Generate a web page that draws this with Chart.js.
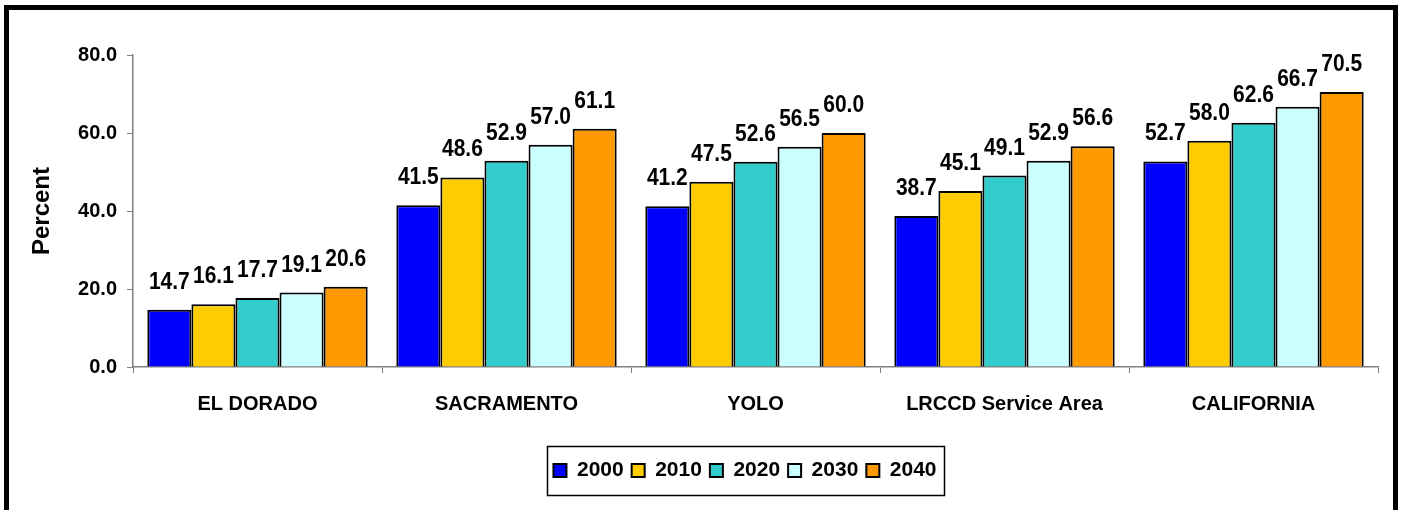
<!DOCTYPE html>
<html>
<head>
<meta charset="utf-8">
<script src="https://cdn.jsdelivr.net/npm/chart.js@4.4.1/dist/chart.umd.min.js"></script>
<style>
    html, body { margin: 0; padding: 0; background: #fff; }
    .chart-box { width: 1403px; height: 510px; position: relative; }
</style>
</head>
<body>
<div class="chart-box"><canvas id="popChart"></canvas></div>
<script>
// Categories and series (percent)
const areas = ['EL DORADO', 'SACRAMENTO', 'YOLO', 'LRCCD Service Area', 'CALIFORNIA'];
const years = ['2000', '2010', '2020', '2030', '2040'];
const values2000 = [14.7, 41.5, 41.2, 38.7, 52.7];
const values2010 = [16.1, 48.6, 47.5, 45.1, 58.0];
const values2020 = [17.7, 52.9, 52.6, 49.1, 62.6];
const values2030 = [19.1, 57.0, 56.5, 52.9, 66.7];
const values2040 = [20.6, 61.1, 60.0, 56.6, 70.5];
const yTicks = [0, 20, 40, 60, 80];

const seriesValues = [values2000, values2010, values2020, values2030, values2040];
const seriesColors = ['#0000FF', '#FFCC00', '#33CCCC', '#CCFFFF', '#FF9900'];

const FONT = '"Liberation Sans", Arial, sans-serif';
const LEGEND_PAD = 8;

// value labels above each bar (a bit taller than wide, like the original)
const barLabels = {
    id: 'barLabels',
    afterDatasetsDraw(chart) {
        const ctx = chart.ctx;
        ctx.save();
        ctx.font = 'bold 21px ' + FONT;
        ctx.fillStyle = '#000';
        ctx.textAlign = 'center';
        ctx.textBaseline = 'alphabetic';
        chart.data.datasets.forEach((ds, i) => {
            chart.getDatasetMeta(i).data.forEach((bar, j) => {
                ctx.save();
                ctx.translate(bar.x, bar.y - 21);
                ctx.scale(1, 1.15);
                ctx.fillText(ds.data[j].toFixed(1), 0, 0);
                ctx.restore();
            });
        });
        ctx.restore();
    }
};

// move the legend a little right of centre, as in the original
const legendShift = {
    id: 'legendShift',
    beforeDraw(chart) {
        const lg = chart.legend;
        if (!lg || lg._shifted) return;
        // adjustHitBoxes adds the offset to top again, so undo it first
        lg.legendHitBoxes.forEach(b => { b.top -= lg.top + LEGEND_PAD; });
        lg.left += 46;
        lg.right += 46;
        lg.adjustHitBoxes();
        lg._shifted = true;
    },
    afterLayout(chart) {
        if (chart.legend) chart.legend._shifted = false;
    }
};

// outer frame + box round the legend
const frames = {
    id: 'frames',
    afterDraw(chart) {
        const ctx = chart.ctx;
        ctx.save();
        ctx.strokeStyle = '#000';
        ctx.lineWidth = 5;
        ctx.strokeRect(6.5, 7.5, 1389, 540);

        const boxes = chart.legend.legendHitBoxes;
        if (boxes && boxes.length) {
            const left = Math.min(...boxes.map(b => b.left)) - 6;
            const right = Math.max(...boxes.map(b => b.left + b.width)) + 8;
            const top = Math.min(...boxes.map(b => b.top)) - 14;
            const bottom = Math.max(...boxes.map(b => b.top + b.height)) + 14;
            ctx.lineWidth = 1.5;
            ctx.strokeRect(Math.round(left) + 0.5, Math.round(top) + 0.5, Math.round(right - left), Math.round(bottom - top));
        }
        ctx.restore();
    }
};

new Chart(document.getElementById('popChart'), {
    type: 'bar',
    data: {
        labels: areas,
        datasets: years.map((y, i) => ({
            label: y,
            data: seriesValues[i],
            backgroundColor: seriesColors[i],
            borderColor: '#000',
            borderWidth: 2,
            barPercentage: 1.0,
            categoryPercentage: 0.885
        }))
    },
    options: {
        responsive: true,
        maintainAspectRatio: false,
        animation: false,
        layout: {
            padding: { top: 55, left: 20, right: 25, bottom: 19 }
        },
        scales: {
            x: {
                grid: { drawOnChartArea: false, drawTicks: true, tickLength: 6, color: '#808080', offset: true },
                border: { color: '#808080', width: 1.5 },
                ticks: {
                    color: '#000',
                    padding: 19,
                    font: { family: FONT, size: 20, weight: 'bold' }
                },
                afterFit(scale) { scale.height = 85; }
            },
            y: {
                min: 0,
                max: 80,
                afterBuildTicks(scale) { scale.ticks = yTicks.map(v => ({ value: v })); },
                grid: { drawOnChartArea: false, drawTicks: true, tickLength: 6, color: '#808080' },
                border: { color: '#808080', width: 1.5 },
                ticks: {
                    color: '#000',
                    padding: 10,
                    font: { family: FONT, size: 20, weight: 'bold' },
                    callback: v => v.toFixed(1)
                },
                title: {
                    display: true,
                    text: 'Percent',
                    color: '#000',
                    padding: { top: 8, bottom: 0 },
                    font: { family: FONT, size: 24, weight: 'bold' }
                },
                afterFit(scale) { scale.width = 113; }
            }
        },
        plugins: {
            legend: {
                position: 'bottom',
                labels: {
                    color: '#000',
                    boxWidth: 13,
                    boxHeight: 13,
                    padding: LEGEND_PAD,
                    font: { family: FONT, size: 21, weight: 'bold' }
                }
            },
            tooltip: { enabled: false }
        }
    },
    plugins: [barLabels, legendShift, frames]
});
</script>
</body>
</html>
